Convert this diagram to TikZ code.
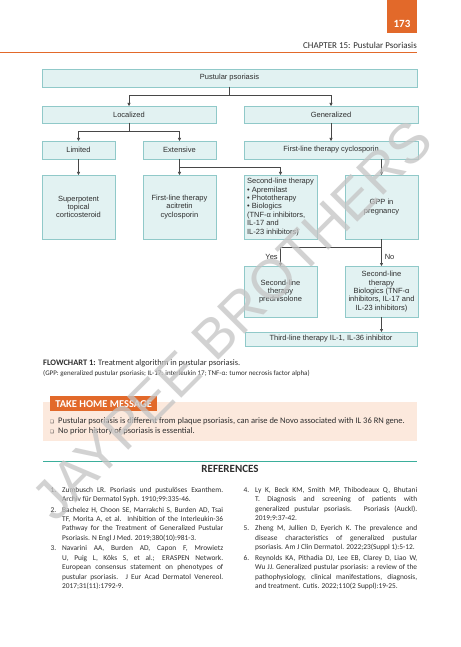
\documentclass[tikz,border=0pt]{standalone}
\usepackage{fontspec}
\setmainfont{Carlito}
\newfontfamily\flowfont{Liberation Sans}
\newfontfamily\symfont{DejaVu Sans}
\usepackage{xcolor}
\usetikzlibrary{arrows.meta, positioning}
\definecolor{pageorange}{HTML}{E2692A}
\definecolor{boxfill}{HTML}{E2F2F2}
\definecolor{boxdraw}{HTML}{90C9C9}
\definecolor{linegray}{HTML}{474747}
\definecolor{textgray}{HTML}{2E2E2E}
\definecolor{peach}{HTML}{FCE9DD}
\definecolor{refteal}{HTML}{3BAE9B}
\definecolor{markgray}{HTML}{C4C4C4}
\tikzstyle{flowbox} = [rectangle, draw=boxdraw, fill=boxfill, line width=0.8pt,
    outer sep=0pt, inner sep=1.5pt, text=textgray, align=center,
    font=\flowfont\fontsize{7.5}{8.4}\selectfont]
\tikzstyle{widebox} = [flowbox, minimum width=174pt, minimum height=17pt]
\tikzstyle{smallbox} = [flowbox, minimum width=73pt, minimum height=18pt]
\tikzstyle{tallbox} = [flowbox, minimum width=73pt, minimum height=64pt]
\tikzstyle{midbox} = [flowbox, minimum width=73pt, minimum height=51pt]
\tikzstyle{arrow} = [line width=0.6pt, draw=linegray, -{Triangle[length=3pt,width=3pt]}]
\tikzstyle{pagetext} = [inner sep=0pt, text=textgray, anchor=base west]
\tikzstyle{refcol} = [inner sep=0pt, text=textgray, anchor=north west, text width=161pt,
    align=justify, font=\fontsize{7.4}{9.4}\selectfont]
\newcommand{\refentry}[2]{\par\noindent\hspace*{-11.5pt}\makebox[11.5pt][l]{#1.}#2}
\newcommand{\refsetup}{\baselineskip=9.4pt\parskip=1.1pt\parindent=0pt}
\newcommand{\boxbullet}{\makebox[8pt][l]{\symfont\fontsize{4.5}{5}\selectfont ❑}}

\begin{document}
\begin{tikzpicture}[x=1pt, y=-1pt]
  \useasboundingbox (0,0) rectangle (460,647);
  \fill[white] (0,0) rectangle (460,647);

  % Running head
  \fill[pageorange] (387,0) rectangle (417,33);
  \node[inner sep=0pt, anchor=base, text=white, font=\bfseries\fontsize{11}{12}\selectfont] (pagenum) at (402,28) {173};
  \node[inner sep=0pt, anchor=base east, text=textgray, font=\fontsize{9}{10}\selectfont] (chapter) at (417,48.5) {CHAPTER 15: Pustular Psoriasis};
  \draw[pageorange, line width=0.9pt] (0,52) -- (417,52);

  % Flowchart blocks
  \node[flowbox, minimum width=375pt, minimum height=18pt, anchor=north west] (pust) at (42,69) {Pustular psoriasis};
  \node[widebox, below right=19pt and 0pt of pust.south west] (local) {Localized};
  \node[widebox, right=28pt of local] (gener) {Generalized};
  \node[smallbox, below right=18pt and 0pt of local.south west] (limit) {Limited};
  \node[smallbox, right=28pt of limit] (extens) {Extensive};
  \node[widebox, minimum height=18pt, right=28pt of extens] (cyclo) {First-line therapy cyclosporin};
  \node[tallbox, below right=16pt and 0pt of limit.south west] (steroid) {Superpotent\\topical\\corticosteroid};
  \node[tallbox, right=28pt of steroid] (acit) {First-line therapy\\acitretin\\cyclosporin};
  \node[tallbox, right=28pt of acit, align=left] (second) {Second-line therapy\\• Apremilast\\• Phototherapy\\• Biologics\\(TNF-α inhibitors,\\IL-17 and\\IL-23 inhibitors)};
  \node[tallbox, right=28pt of second] (preg) {GPP in\\pregnancy};
  \node[midbox, below right=27pt and 0pt of second.south west] (pred) {Second-line\\therapy\\prednisolone};
  \node[midbox, right=28pt of pred] (biolog) {Second-line\\therapy\\Biologics (TNF-α\\inhibitors, IL-17 and\\IL-23 inhibitors)};
  \node[flowbox, minimum width=172pt, minimum height=14pt, below right=15pt and 1pt of pred.south west] (third) {Third-line therapy IL-1, IL-36 inhibitor};

  \draw[arrow] (pust.south) -- ++(0,8) -| (local.north);
  \draw[arrow] (pust.south) -- ++(0,8) -| (gener.north);
  \draw[arrow] (local.south) -- ++(0,8) -| (limit.north);
  \draw[arrow] (local.south) -- ++(0,8) -| (extens.north);
  \draw[arrow] (gener) -- (cyclo);
  \draw[arrow] (limit) -- (steroid);
  \draw[arrow] (extens.south) -- ++(0,8) -| (acit.north);
  \draw[arrow] (extens.south) -- ++(0,8) -| (second.north);
  \draw[arrow] (preg.north |- cyclo.south) -- (preg.north);
  \draw[arrow] (preg.south) -- ++(0,8) -| (pred.north)
    node[pos=0.75, left, inner sep=2.5pt, text=textgray, font=\flowfont\fontsize{7.5}{8.4}\selectfont] {Yes};
  \draw[arrow] (preg.south) -- (biolog.north)
    node[pos=0.65, right, inner sep=3pt, text=textgray, font=\flowfont\fontsize{7.5}{8.4}\selectfont] {No};
  \draw[arrow] (biolog.south) -- (biolog.south |- third.north);

  % Caption
  \node[pagetext, font=\fontsize{8.4}{9}\selectfont] (caption) at (43,365) {\textbf{FLOWCHART 1:} Treatment algorithm in pustular psoriasis.};
  \node[pagetext, font=\fontsize{7}{8}\selectfont] (abbrev) at (43,375.5) {(GPP: generalized pustular psoriasis; IL-17: interleukin 17; TNF-α: tumor necrosis factor alpha)};

  % Take home message
  \node[fill=peach, minimum width=374pt, minimum height=39pt, inner sep=0pt, anchor=north west] (takehome) at (43,402) {};
  \node[fill=pageorange, text=white, minimum width=107pt, minimum height=15pt, inner sep=0pt, anchor=north west,
    font=\bfseries\fontsize{10.5}{12}\selectfont] (thmlabel) at (50,396) {TAKE HOME MESSAGE};
  \node[pagetext, font=\fontsize{8.5}{9}\selectfont] (point1) at (50,423.5) {\boxbullet Pustular psoriasis is different from plaque psoriasis, can arise de Novo associated with IL 36 RN gene.};
  \node[pagetext, font=\fontsize{8.5}{9}\selectfont] (point2) at (50,433.5) {\boxbullet No prior history of psoriasis is essential.};

  % References
  \draw[refteal, line width=1pt] (43,461) -- (417,461);
  \node[inner sep=0pt, anchor=base, text=textgray, font=\bfseries\fontsize{11}{12}\selectfont] (refhead) at (230,472.5) {REFERENCES};
  \node[refcol] (refleft) at (62,481.5) {\refsetup
    \refentry{1}{Zumbusch LR. Psoriasis und pustulöses Exanthem.\linebreak Archiv für Dermatol Syph. 1910;99:335-46.}
    \refentry{2}{Bachelez H, Choon SE, Marrakchi S, Burden AD, Tsai\linebreak TF, Morita A, et al. Inhibition of the Interleukin-36\linebreak Pathway for the Treatment of Generalized Pustular\linebreak Psoriasis. N Engl J Med. 2019;380(10):981-3.}
    \refentry{3}{Navarini AA, Burden AD, Capon F, Mrowietz\linebreak U, Puig L, Köks S, et al.; ERASPEN Network.\linebreak European consensus statement on phenotypes of\linebreak pustular psoriasis. J Eur Acad Dermatol Venereol.\linebreak 2017;31(11):1792-9.}\par};
  \node[refcol, text width=162pt] (refright) at (255,481.5) {\refsetup
    \refentry{4}{Ly K, Beck KM, Smith MP, Thibodeaux Q, Bhutani\linebreak T. Diagnosis and screening of patients with\linebreak generalized pustular psoriasis. Psoriasis (Auckl).\linebreak 2019;9:37-42.}
    \refentry{5}{Zheng M, Jullien D, Eyerich K. The prevalence and\linebreak disease characteristics of generalized pustular\linebreak psoriasis. Am J Clin Dermatol. 2022;23(Suppl 1):5-12.}
    \refentry{6}{Reynolds KA, Pithadia DJ, Lee EB, Clarey D, Liao W,\linebreak Wu JJ. Generalized pustular psoriasis: a review of the\linebreak pathophysiology, clinical manifestations, diagnosis,\linebreak and treatment. Cutis. 2022;110(2 Suppl):19-25.}\par};

  % Watermark
  \node[rotate=45, inner sep=0pt, text=markgray, opacity=0.75, font=\flowfont\fontsize{56}{60}\selectfont] (mark) at (232,320) {JAYPEE BROTHERS};
\end{tikzpicture}
\end{document}
